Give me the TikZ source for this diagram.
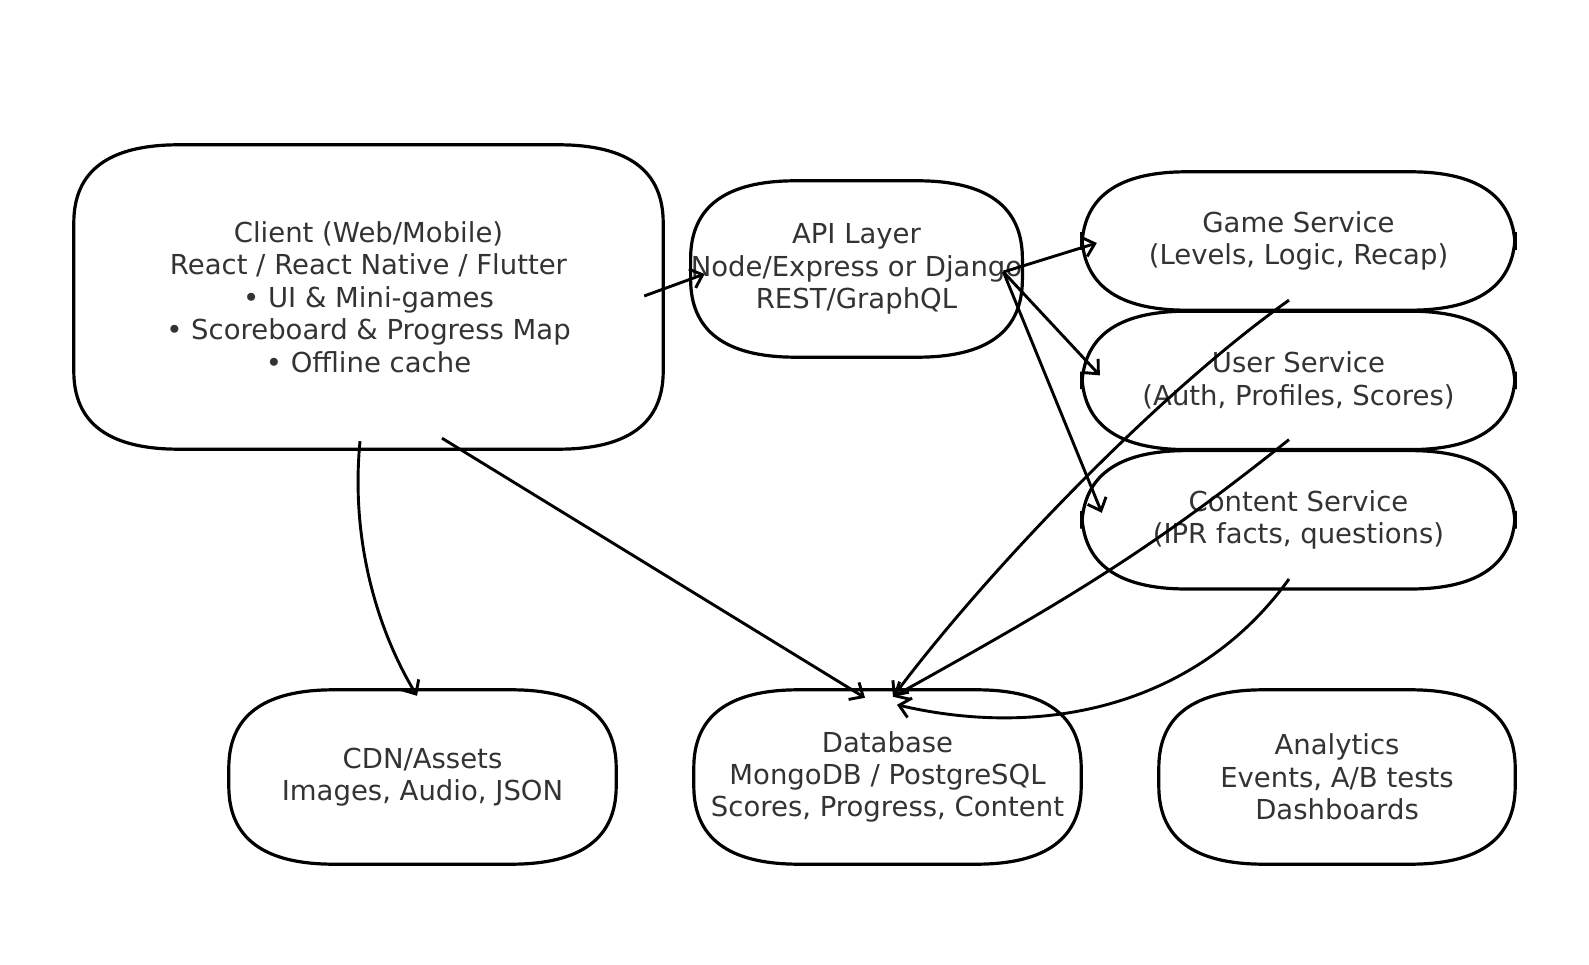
\documentclass[tikz,border=0pt]{standalone}
\usepackage{fontspec}
\setmainfont{DejaVu Sans}
\usetikzlibrary{arrows.meta,positioning}

\tikzset{
  box/.style={inner sep=0pt, align=center, text=black!80,
    font=\fontsize{27.5}{32.4}\selectfont},
  svc/.style={minimum width=433pt, minimum height=138pt},
  low/.style={minimum height=174pt},
  outline/.style={line width=3.2pt},
  arr/.style={line width=2.9pt, -{Straight Barb[length=11pt,width=20pt]}}
}
% soft box round a node: corners reach 105 x 78
\newcommand\pill[1]{%
  \draw[outline] ([xshift=105pt]#1.south west) -- ([xshift=-105pt]#1.south east)
    .. controls ([xshift=-35pt]#1.south east) and ([yshift=26pt]#1.south east) .. ([yshift=78pt]#1.south east)
    -- ([yshift=-78pt]#1.north east)
    .. controls ([yshift=-26pt]#1.north east) and ([xshift=-35pt]#1.north east) .. ([xshift=-105pt]#1.north east)
    -- ([xshift=105pt]#1.north west)
    .. controls ([xshift=35pt]#1.north west) and ([yshift=-26pt]#1.north west) .. ([yshift=-78pt]#1.north west)
    -- ([yshift=78pt]#1.south west)
    .. controls ([yshift=26pt]#1.south west) and ([xshift=35pt]#1.south west) .. ([xshift=105pt]#1.south west)
    -- cycle;}

\begin{document}
\begin{tikzpicture}[x=1pt,y=1pt]
        \useasboundingbox (0,0) rectangle (1589,964);
        \node[box, minimum width=589pt, minimum height=304pt] (client) at (368.5,667)
          {Client (Web/Mobile)\\React / React Native / Flutter\\• UI \& Mini-games\\• Scoreboard \& Progress Map\\• Offline cache};
        \node[box, minimum width=325pt, minimum height=176pt] (api) at (856.5,695)
          {API Layer\\Node/Express or Django\\REST/GraphQL};
        \node[box, svc] (game) at (1298.5,723) {Game Service\\(Levels, Logic, Recap)};
        \node[box, svc, below=1pt of game] (user) {User Service\\(Auth, Profiles, Scores)};
        \node[box, svc, below=1pt of user] (content) {Content Service\\(IPR facts, questions)};
        \node[box, low, minimum width=387pt] (cdn) at (422.5,187) {CDN/Assets\\Images, Audio, JSON};
        \node[box, low, minimum width=387pt] (db) at (887.5,187)
          {Database\\MongoDB / PostgreSQL\\Scores, Progress, Content};
        \node[box, low, minimum width=356pt] (analytics) at (1337,187)
          {Analytics\\Events, A/B tests\\Dashboards};
        \foreach \n in {client, api, game, user, content, cdn, db, analytics}
          \pill{\n};
        % links
        \draw[arr] ([xshift=-19pt,yshift=1pt]client.east) -- ([xshift=14pt,yshift=-5pt]api.west);
        \draw[arr] ([xshift=-19pt,yshift=-3pt]api.east) -- ([xshift=15pt,yshift=-2pt]game.west);
        \draw[arr] ([xshift=-19pt,yshift=-3pt]api.east) -- ([xshift=18pt,yshift=5pt]user.west);
        \draw[arr] ([xshift=-19pt,yshift=-3pt]api.east) -- ([xshift=20pt,yshift=7pt]content.west);
        \draw[arr] ([xshift=-8.5pt,yshift=8pt]client.south) .. controls +(-10,-104) and +(-37,61)
          .. ([xshift=-5.5pt,yshift=-6pt]cdn.north);
        \draw[arr] ([xshift=73.5pt,yshift=11pt]client.south) -- ([xshift=-22.5pt,yshift=-8pt]db.north);
        \draw[arr] ([xshift=-9.5pt,yshift=10pt]game.south) .. controls +(-130,-92) and +(95,127)
          .. ([xshift=5.5pt,yshift=-7pt]db.north);
        \draw[arr] ([xshift=-9.5pt,yshift=10pt]user.south) .. controls +(-145,-116) and +(165,92)
          .. ([xshift=5.5pt,yshift=-7pt]db.north);
        \draw[arr] ([xshift=-9.5pt,yshift=10pt]content.south) .. controls +(-90,-125) and +(150,-35)
          .. ([xshift=9.5pt,yshift=-15pt]db.north);
\end{tikzpicture}
\end{document}
